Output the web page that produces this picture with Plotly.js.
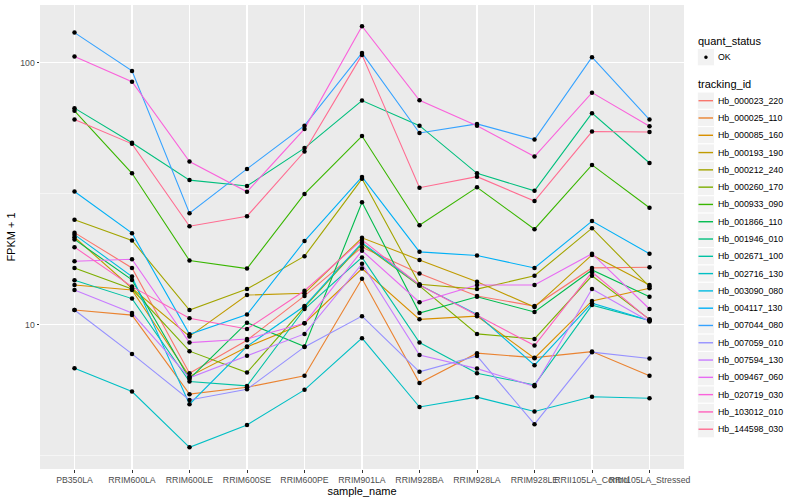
<!DOCTYPE html>
<html><head><meta charset="utf-8">
<script src="https://cdn.plot.ly/plotly-3.0.1.min.js"></script>
<style>html,body{margin:0;padding:0;background:#fff}#chart{width:800px;height:500px}</style>
</head><body><div id="chart"></div>
<script>
// categories (x axis)
const sampleNames = ["PB350LA","RRIM600LA","RRIM600LE","RRIM600SE","RRIM600PE","RRIM901LA","RRIM928BA","RRIM928LA","RRIM928LE","RRII105LA_Control","RRII105LA_Stressed"];
// series names and colours
const trackingIds = ["Hb_000023_220","Hb_000025_110","Hb_000085_160","Hb_000193_190","Hb_000212_240","Hb_000260_170","Hb_000933_090","Hb_001866_110","Hb_001946_010","Hb_002671_100","Hb_002716_130","Hb_003090_080","Hb_004117_130","Hb_007044_080","Hb_007059_010","Hb_007594_130","Hb_009467_060","Hb_020719_030","Hb_103012_010","Hb_144598_030"];
const seriesColors = ["#F8766D","#EA8331","#D89000","#C09B00","#A3A500","#7CAE00","#39B600","#00BB4E","#00BF7D","#00C1A3","#00BFC4","#00BAE0","#00B0F6","#35A2FF","#9590FF","#C77CFF","#E76BF3","#FA62DB","#FF62BC","#FF6C91"];
const quantStatus = ["OK"];
// FPKM + 1 values, one array per tracking id (order of sampleNames)
const Hb_000023_220 = [22.5,16.5,6.54,8.74,12.9,19.8,15.7,12.9,11.8,16.5,16.6];
const Hb_000025_110 = [11.4,10.9,5.44,5.78,6.39,15.0,6.00,7.80,7.50,7.91,6.39];
const Hb_000085_160 = [14.2,13.6,6.36,8.24,10.15,16.4,10.5,10.8,7.46,12.35,13.8];
const Hb_000193_190 = [21.6,13.8,9.04,13.0,13.2,21.5,17.7,14.6,11.7,18.5,14.2];
const Hb_000212_240 = [25.2,21.0,11.4,13.7,18.3,36.1,14.3,13.7,15.4,23.4,14.0];
const Hb_000260_170 = [16.5,13.7,7.94,6.58,11.7,20.4,14.1,9.24,8.84,15.4,10.5];
const Hb_000933_090 = [65.6,37.9,17.6,16.4,31.6,52.6,24.0,33.5,23.2,40.8,28.0];
const Hb_001866_110 = [21.2,14.85,6.22,10.2,8.27,29.4,11.1,12.8,11.2,16.2,12.8];
const Hb_001946_010 = [67.2,49.6,35.7,33.9,47.3,71.8,57.6,37.9,32.5,64.3,41.5];
const Hb_002671_100 = [14.8,12.6,6.08,5.85,11.5,18.1,8.56,6.54,5.90,11.9,10.4];
const Hb_002716_130 = [6.83,5.57,3.41,4.15,5.65,8.90,4.86,5.30,4.67,5.32,5.25];
const Hb_003090_080 = [22.1,15.3,4.98,8.28,11.8,20.6,14.2,10.97,7.02,12.1,10.4];
const Hb_004117_130 = [32.3,22.4,9.21,10.95,20.9,36.7,19.0,18.4,16.5,24.9,18.7];
const Hb_007044_080 = [130.5,93.2,26.7,39.4,57.6,109.2,54.0,58.5,51.0,105.1,60.8];
const Hb_007059_010 = [11.4,7.75,5.17,5.68,8.24,10.8,6.62,7.61,4.18,7.87,7.44];
const Hb_007594_130 = [13.6,11.1,6.28,7.63,9.24,17.1,7.68,6.81,5.83,13.7,10.3];
const Hb_009467_060 = [17.5,17.8,8.56,8.84,10.15,19.2,12.2,14.2,14.2,18.7,11.5];
const Hb_020719_030 = [105.7,84.8,42.0,32.2,56.0,138.1,72.0,57.6,43.9,77.0,57.3];
const Hb_103012_010 = [19.8,14.0,10.6,9.65,13.5,21.1,14.2,10.9,8.34,15.9,10.45];
const Hb_144598_030 = [60.8,49.1,23.8,26.0,45.9,107.3,33.4,36.8,29.7,54.7,54.5];
const seriesValues = [Hb_000023_220,Hb_000025_110,Hb_000085_160,Hb_000193_190,Hb_000212_240,Hb_000260_170,Hb_000933_090,Hb_001866_110,Hb_001946_010,Hb_002671_100,Hb_002716_130,Hb_003090_080,Hb_004117_130,Hb_007044_080,Hb_007059_010,Hb_007594_130,Hb_009467_060,Hb_020719_030,Hb_103012_010,Hb_144598_030];
const yTickVals = [10,100];
const yMinorVals = [3.1623,31.623];

const FONT = "Liberation Sans, Arial, Helvetica, sans-serif";
// plot area geometry (pixels) used to place the hand-built legend
const M = {l:40, r:116, t:5, b:31}, W = 800, H = 500;
const pw = W - M.l - M.r, ph = H - M.t - M.b;
const px2x = px => (px - M.l) / pw;
const px2y = py => (H - M.b - py) / ph;

const traces = [];
trackingIds.forEach((id,i)=>{
  traces.push({
    type:'scatter', mode:'lines', x:sampleNames, y:seriesValues[i], name:id,
    line:{color:seriesColors[i], width:1.1}, hoverinfo:'skip', showlegend:false
  });
});
const allX = [], allY = [];
seriesValues.forEach(arr=>arr.forEach((v,j)=>{allX.push(sampleNames[j]); allY.push(v);}));
traces.push({
  type:'scatter', mode:'markers', x:allX, y:allY, name:quantStatus[0],
  marker:{color:'#000', size:4.5}, showlegend:false
});

// legend (ggplot style, built with shapes + annotations)
const shapes = [], annotations = [];
const keyL = 697.3, keyW = 17.3, textX = 716;
annotations.push({xref:'paper', yref:'paper', x:px2x(696), y:px2y(40.7), xanchor:'left', yanchor:'middle',
  text:'quant_status', showarrow:false, font:{size:11, color:'#000'}});
let yc = 57.2;
shapes.push({type:'rect', xref:'paper', yref:'paper', x0:px2x(keyL), x1:px2x(keyL+keyW), y0:px2y(yc-keyW/2), y1:px2y(yc+keyW/2),
  fillcolor:'#F2F2F2', line:{color:'#fff', width:1}, layer:'above'});
shapes.push({type:'circle', xref:'paper', yref:'paper', x0:px2x(keyL+keyW/2-1.5), x1:px2x(keyL+keyW/2+1.5), y0:px2y(yc-1.5), y1:px2y(yc+1.5),
  fillcolor:'#000', line:{color:'#000', width:0.5}, layer:'above'});
annotations.push({xref:'paper', yref:'paper', x:px2x(textX), y:px2y(yc), xanchor:'left', yanchor:'middle',
  text:quantStatus[0], showarrow:false, font:{size:8.8, color:'#000'}});
annotations.push({xref:'paper', yref:'paper', x:px2x(696), y:px2y(84.3), xanchor:'left', yanchor:'middle',
  text:'tracking_id', showarrow:false, font:{size:11, color:'#000'}});
trackingIds.forEach((id,i)=>{
  const y = 100.7 + 17.29*i;
  shapes.push({type:'rect', xref:'paper', yref:'paper', x0:px2x(keyL), x1:px2x(keyL+keyW), y0:px2y(y-keyW/2), y1:px2y(y+keyW/2),
    fillcolor:'#F2F2F2', line:{color:'#fff', width:1}, layer:'above'});
  shapes.push({type:'line', xref:'paper', yref:'paper', x0:px2x(keyL+1.2), x1:px2x(keyL+keyW-1.6), y0:px2y(y), y1:px2y(y),
    line:{color:seriesColors[i], width:1.4}, layer:'above'});
  annotations.push({xref:'paper', yref:'paper', x:px2x(textX), y:px2y(y), xanchor:'left', yanchor:'middle',
    text:id, showarrow:false, font:{size:8.8, color:'#000'}});
});

const layout = {
  width:W, height:H,
  paper_bgcolor:'#fff', plot_bgcolor:'#EBEBEB',
  margin:M,
  font:{family:FONT, size:9, color:'#4D4D4D'},
  showlegend:false,
  shapes:shapes, annotations:annotations,
  xaxis:{type:'category', range:[-0.6,10.6], showgrid:true, gridcolor:'#fff', gridwidth:1.1,
         ticks:'outside', ticklen:2.5, tickcolor:'#333', tickwidth:1, tickangle:0,
         tickfont:{size:8.7, color:'#4D4D4D'}, showline:false, zeroline:false,
         title:{text:'sample_name', font:{size:11, color:'#000'}, standoff:0}},
  yaxis:{type:'log', range:[0.450,2.221], tickmode:'array', tickvals:yTickVals, ticktext:yTickVals.map(String),
         showgrid:true, gridcolor:'#fff', gridwidth:1.1, ticks:'outside', ticklen:2.5, tickcolor:'#333',
         tickfont:{size:8.7, color:'#4D4D4D'}, zeroline:false, showline:false,
         minor:{tickmode:'array', tickvals:yMinorVals, showgrid:true, gridcolor:'#fff', gridwidth:0.5, ticks:''},
         title:{text:'FPKM + 1', font:{size:11, color:'#000'}, standoff:2}}
};
Plotly.newPlot('chart', traces, layout, {displayModeBar:false, staticPlot:true});
</script></body></html>
